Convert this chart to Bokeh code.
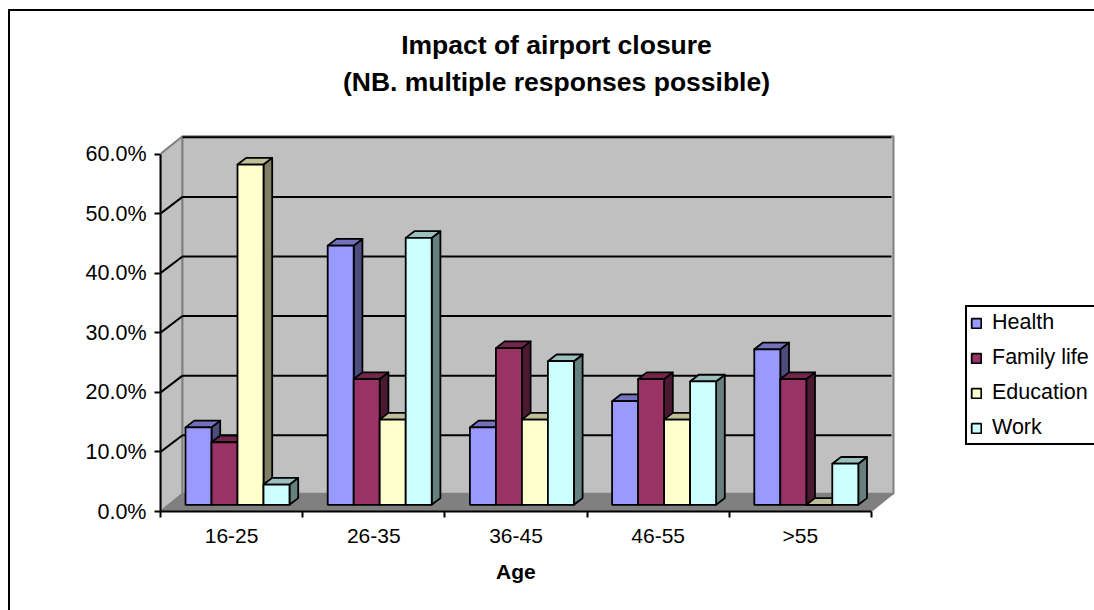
from bokeh.plotting import figure
from bokeh.models import (Range1d, FixedTicker, PrintfTickFormatter, Legend, LegendItem, Title)
from bokeh.embed import file_html
from bokeh.resources import INLINE

categories = ["16-25", "26-35", "36-45", "46-55", ">55"]
series_names = ["Health", "Family life", "Education", "Work"]
health = [13.0, 43.5, 13.0, 17.4, 26.1]
family = [10.5, 21.1, 26.3, 21.1, 21.1]
education = [57.1, 14.3, 14.3, 14.3, 0.0]
work = [3.4, 44.8, 24.1, 20.7, 6.9]
y_ticks = [0, 10, 20, 30, 40, 50, 60]
title_lines = ["Impact of airport closure", "(NB. multiple responses possible)"]

front_colors = ["#9999FF", "#993366", "#FFFFCC", "#CCFFFF"]
side_colors = ["#4C4C7F", "#4C1933", "#7F7F66", "#667F7F"]
top_colors = ["#7272BF", "#72264C", "#BFBF99", "#99BFBF"]

FONT = "Liberation Sans"
PX_X = 1 / 142.2          # data units per pixel, category axis
PX_Y = 60 / 357.5         # data units per pixel, value axis
FW, FH = 792, 391         # plot frame in pixels

wall_dx, wall_dy = 22 * PX_X, 17.7 * PX_Y     # depth of the floor / side wall
grid_dy = 16.7 * PX_Y                         # rise of gridlines on the back wall
bar_dx, bar_dy = 8.7 * PX_X, 6.7 * PX_Y       # depth of a bar
floor_y = 6.7 * PX_Y                          # front foot of bars above the axis
bar_w = 26 * PX_X
bar_lead = 25 * PX_X

# chart-area border: only its left and top sides fall inside the picture
AREA_BORDER = """
:host { position: relative; }
:host::after { content: ""; position: absolute; left: 7.5px; top: 9px; right: 0; bottom: 0;
  border-left: 2.4px solid black; border-top: 2.4px solid black; pointer-events: none; }
"""

p = figure(width=1094, height=610, output_backend="svg", toolbar_location=None,
           frame_width=FW, frame_height=FH,
           x_range=Range1d(0, FW * PX_X), y_range=Range1d(0, FH * PX_Y),
           min_border_left=160, min_border_top=120, min_border_bottom=99, min_border_right=142,
           border_fill_color="white", background_fill_color="white", outline_line_color=None,
           stylesheets=[AREA_BORDER])
p.grid.visible = False

# title
p.add_layout(Title(text=title_lines[1], align="center", text_font=FONT, text_font_size="26.5px",
                   text_font_style="bold", text_color="black", standoff=47), "above")
p.add_layout(Title(text=title_lines[0], align="center", text_font=FONT, text_font_size="26.5px",
                   text_font_style="bold", text_color="black", standoff=-37), "above")

n = len(categories)
top_edge = y_ticks[-1] + wall_dy

# walls and floor
p.patch([0, wall_dx, wall_dx, 0], [0, wall_dy, top_edge, y_ticks[-1]],
        fill_color="#C0C0C0", line_color="#808080", line_width=2)
p.patch([wall_dx, n + wall_dx, n + wall_dx, wall_dx],
        [wall_dy, wall_dy, top_edge, top_edge],
        fill_color="#C0C0C0", line_color="#808080", line_width=2)
p.patch([0, n, n + wall_dx, wall_dx], [0, 0, wall_dy, wall_dy],
        fill_color="#808080", line_color="#808080", line_width=1)

# gridlines
grid = y_ticks[1:]
p.multi_line([[wall_dx, n + wall_dx - 2 * PX_X] for _ in grid],
             [[v + grid_dy, v + grid_dy] for v in grid], line_color="black", line_width=2)
p.multi_line([[0, wall_dx] for _ in grid[:-1]],
             [[v, v + grid_dy] for v in grid[:-1]], line_color="black", line_width=2)

# bars
items = []
all_values = [health, family, education, work]
for s, (name, vals) in enumerate(zip(series_names, all_values)):
    x0 = [i + bar_lead + s * bar_w for i in range(n)]
    x1 = [x + bar_w for x in x0]
    tops = [floor_y + v for v in vals]
    p.patches([[a, a + bar_dx, a + bar_dx, a] for a in x1],
              [[floor_y, floor_y + bar_dy, t + bar_dy, t] for t in tops],
              fill_color=side_colors[s], line_color="black", line_width=1.8, line_join="round")
    p.patches([[a, b, b + bar_dx, a + bar_dx] for a, b in zip(x0, x1)],
              [[t, t, t + bar_dy, t + bar_dy] for t in tops],
              fill_color=top_colors[s], line_color="black", line_width=1.8, line_join="round")
    r = p.vbar(x=[(a + b) / 2 for a, b in zip(x0, x1)], width=bar_w, bottom=floor_y, top=tops,
               fill_color=front_colors[s], line_color="black", line_width=1.8)
    items.append(LegendItem(label=name, renderers=[r]))

# axes
xa = p.xaxis[0]
xa.bounds = (0, n)
xa.ticker = FixedTicker(ticks=[i + 0.5 for i in range(n)], minor_ticks=list(range(n + 1)))
xa.major_label_overrides = {i + 0.5: c for i, c in enumerate(categories)}
xa.major_tick_line_color = None
xa.major_tick_out = 0
xa.major_tick_in = 0
xa.minor_tick_out = 6
xa.minor_tick_in = 0
xa.minor_tick_line_color = "black"
xa.minor_tick_line_width = 2
xa.major_label_standoff = 6
xa.major_label_text_font = FONT
xa.major_label_text_font_size = "21px"
xa.major_label_text_color = "black"
xa.axis_line_color = "black"
xa.axis_line_width = 2

p.add_layout(Title(text="Age", align="left", offset=335.5, text_font=FONT, text_font_size="21px",
                   text_font_style="bold", text_color="black", standoff=16), "below")

ya = p.yaxis[0]
ya.bounds = (0, 60)
ya.ticker = FixedTicker(ticks=y_ticks)
ya.minor_tick_line_color = None
ya.formatter = PrintfTickFormatter(format="%.1f%%")
ya.major_tick_out = 6
ya.major_tick_in = 0
ya.major_tick_line_color = "black"
ya.major_tick_line_width = 2
ya.axis_line_color = "black"
ya.axis_line_width = 2
ya.major_label_standoff = 8
ya.major_label_text_font = FONT
ya.major_label_text_font_size = "21.5px"
ya.major_label_text_color = "black"

# legend
legend = Legend(items=items, location=(13, 66), orientation="vertical",
                label_text_font=FONT, label_text_font_size="21.5px", label_text_color="black",
                glyph_width=12, glyph_height=12, label_standoff=10, spacing=10, padding=3, margin=0,
                label_width=112,
                border_line_color="black", border_line_width=2, border_line_alpha=1,
                background_fill_color="white", background_fill_alpha=1)
p.add_layout(legend, "right")

open("out.html", "w").write(file_html(p, INLINE))
